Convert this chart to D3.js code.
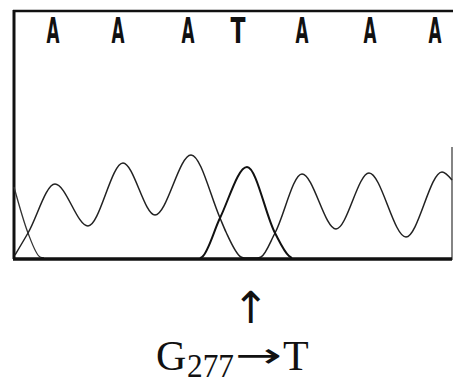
<!DOCTYPE html>
<html>
<head>
<meta charset="utf-8">
<script src="https://cdn.jsdelivr.net/npm/d3@7"></script>
<style>
  html, body { margin: 0; padding: 0; background: #fff; }
  svg { display: block; }
</style>
</head>
<body>
<svg width="453" height="381"></svg>
<script>
const width = 453
const height = 381

// base calls printed over the trace
const bases = ['A', 'A', 'A', 'T', 'A', 'A', 'A']
const basePos = [39, 104, 174, 224, 288, 356, 421]

// traces: [scan position, signal]
const tailTrace = [[0, 71], [14, 25], [26, 1], [30, 0]]
const aTrace = [
  [1, 3], [14, 25], [41, 74], [74, 32], [109, 95], [141, 43], [177, 103],
  [206, 40], [212, 26], [227, 1], [231, 0], [243, 0], [247, 1], [261, 25],
  [288, 84], [322, 29], [355, 85], [392, 21], [428, 86], [438, 78]
]
const tTrace = [[186, 0], [188, 1], [206, 40], [233, 91], [261, 25], [275, 2], [278, 0]]

const mutation = { from: 'G', pos: '277', to: 'T' }

const xScale = d3.scaleLinear()
  .domain([0, 438])
  .range([14, 452])

const yScale = d3.scaleLinear()
  .domain([0, 247])
  .range([258, 11])

const svg = d3.select('svg')

const line = d3.line()
  .x(d => xScale(d[0]))
  .y(d => yScale(d[1]))
  .curve(d3.curveMonotoneX)

// frame
svg.append('line')
  .attr('x1', xScale(0)).attr('x2', xScale(0))
  .attr('y1', yScale(248)).attr('y2', yScale(-1))
  .attr('stroke', '#111').attr('stroke-width', 3)

svg.append('line')
  .attr('x1', xScale(0) - 1).attr('x2', width)
  .attr('y1', yScale(247)).attr('y2', yScale(247))
  .attr('stroke', '#111').attr('stroke-width', 2.5)

svg.append('line')
  .attr('x1', xScale(438)).attr('x2', xScale(438))
  .attr('y1', yScale(111)).attr('y2', yScale(-2))
  .attr('stroke', '#333').attr('stroke-width', 1.2)

// traces
svg.append('path')
  .attr('d', line(tailTrace))
  .attr('fill', 'none').attr('stroke', '#333').attr('stroke-width', 1.3)

svg.append('path')
  .attr('d', line(aTrace))
  .attr('fill', 'none').attr('stroke', '#222').attr('stroke-width', 1.5)

svg.append('path')
  .attr('d', line(tTrace))
  .attr('fill', 'none').attr('stroke', '#111').attr('stroke-width', 2)

// baseline
svg.append('line')
  .attr('x1', xScale(0) - 1).attr('x2', xScale(438))
  .attr('y1', yScale(0) + 1).attr('y2', yScale(0) + 1)
  .attr('stroke', '#111').attr('stroke-width', 3.5)

// base letters
svg.selectAll('.base')
  .data(bases)
  .enter().append('text')
  .attr('class', 'base')
  .attr('x', (d, i) => xScale(basePos[i]) - (d === 'T' ? 7.5 : 6.5))
  .attr('y', 43)
  .attr('textLength', d => d === 'T' ? 15 : 13)
  .attr('lengthAdjust', 'spacingAndGlyphs')
  .attr('font-family', 'DejaVu Sans')
  .attr('font-weight', 'bold')
  .attr('font-size', 35)
  .attr('fill', '#111')
  .text(d => d)

// mutation marker
svg.append('text')
  .attr('x', 251).attr('y', 323)
  .attr('text-anchor', 'middle')
  .attr('font-family', 'DejaVu Sans')
  .attr('font-size', 44)
  .attr('fill', '#111')
  .text('↑')

const serif = 'Liberation Serif, Times New Roman, serif'

svg.append('text')
  .attr('x', 156).attr('y', 370)
  .attr('font-family', serif).attr('font-size', 42).attr('fill', '#111')
  .text(mutation.from)

svg.append('text')
  .attr('x', 187).attr('y', 377)
  .attr('textLength', 47).attr('lengthAdjust', 'spacingAndGlyphs')
  .attr('font-family', serif).attr('font-size', 34).attr('fill', '#111')
  .text(mutation.pos)

svg.append('text')
  .attr('x', 235).attr('y', 367)
  .attr('textLength', 47).attr('lengthAdjust', 'spacingAndGlyphs')
  .attr('font-family', 'DejaVu Sans').attr('font-size', 34).attr('fill', '#111')
  .text('→')

svg.append('text')
  .attr('x', 283).attr('y', 370)
  .attr('font-family', serif).attr('font-size', 42).attr('fill', '#111')
  .text(mutation.to)
</script>
</body>
</html>
